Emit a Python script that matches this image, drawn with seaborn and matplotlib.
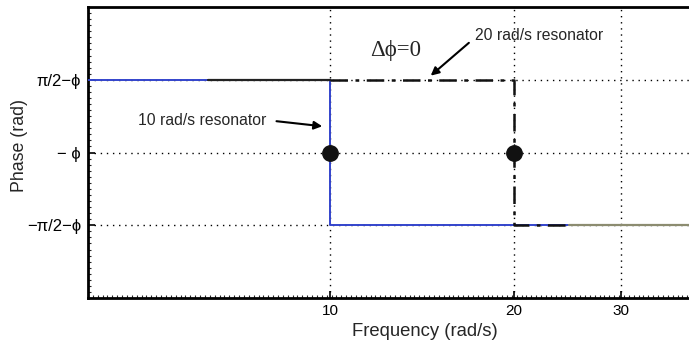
import numpy as np
import pandas as pd
import matplotlib
matplotlib.use("Agg")
import matplotlib.pyplot as plt
import seaborn as sns
from matplotlib.ticker import FixedLocator, NullFormatter, MultipleLocator

sns.set_theme(style="white")
plt.rcParams['font.family'] = ['Liberation Sans', 'DejaVu Sans']

HALF_PI = np.pi / 2

# 10 rad/s resonator phase response (solid)
freq_10 = [4.0, 10.0, 10.0, 24.7]
phase_10 = [HALF_PI, HALF_PI, -HALF_PI, -HALF_PI]

# overlapping solid trace segments
freq_top = [6.3, 10.0]
phase_top = [HALF_PI, HALF_PI]
freq_tail = [24.7, 40.0]
phase_tail = [-HALF_PI, -HALF_PI]

# 20 rad/s resonator phase response (dash-dot)
freq_20 = [10.0, 20.0, 20.0, 24.7]
phase_20 = [HALF_PI, HALF_PI, -HALF_PI, -HALF_PI]

# resonance points
res_freq = [10.0, 20.0]
res_phase = [0.0, 0.0]

x_ticks = [10, 20, 30]
y_ticks = [-HALF_PI, 0.0, HALF_PI]
y_tick_labels = ["\u2212\u03c0/2\u2212\u03d5", "\u2212 \u03d5", "\u03c0/2\u2212\u03d5"]

fig = plt.figure(figsize=(6.89, 3.47), dpi=100)
ax = fig.add_axes([88 / 689, 1 - 298 / 347, (697 - 88) / 689, (298 - 7) / 347])

ax.set_xscale("log")
ax.set_xlim(4, 40)
ax.set_ylim(-np.pi, np.pi)

# dotted grid
grid_kw = dict(color="black", lw=1.0, ls=(0, (1, 3.4)), zorder=1)
for xv in x_ticks:
    ax.axvline(xv, **grid_kw)
for yv in y_ticks:
    ax.axhline(yv, **grid_kw)

df10 = pd.DataFrame({"f": freq_10, "p": phase_10})
sns.lineplot(data=df10, x="f", y="p", sort=False, estimator=None,
             color="#3344cc", lw=1.4, ax=ax, zorder=3)
sns.lineplot(x=freq_top, y=phase_top, sort=False, estimator=None,
             color="#222222", lw=1.6, ax=ax, zorder=4)
sns.lineplot(x=freq_tail, y=phase_tail, sort=False, estimator=None,
             color="#8c8c70", lw=1.6, ax=ax, zorder=3)
df20 = pd.DataFrame({"f": freq_20, "p": phase_20})
sns.lineplot(data=df20, x="f", y="p", sort=False, estimator=None,
             color="#111111", lw=1.8, ax=ax, zorder=4,
             linestyle=(0, (7, 3, 1.5, 3)))

sns.scatterplot(x=res_freq, y=res_phase, s=125, color="#111111",
                edgecolor="#111111", ax=ax, zorder=6)

ax.xaxis.set_major_locator(FixedLocator(x_ticks))
ax.set_xticklabels([str(v) for v in x_ticks])
ax.xaxis.set_minor_locator(FixedLocator(10 ** np.arange(np.log10(4), np.log10(40), 0.008)))
ax.xaxis.set_minor_formatter(NullFormatter())
ax.yaxis.set_major_locator(FixedLocator(y_ticks))
ax.set_yticklabels(y_tick_labels)
ax.yaxis.set_minor_locator(MultipleLocator(np.pi / 24))

ax.tick_params(axis="x", which="major", direction="in", length=5, width=1.2,
               labelsize=11, colors="black", bottom=True, pad=4)
ax.tick_params(axis="y", which="major", direction="in", length=5, width=1.2,
               labelsize=12, colors="black", left=True, pad=5)
ax.tick_params(axis="both", which="minor", direction="in", length=2, width=0.8,
               bottom=True, left=True)
for s in ax.spines.values():
    s.set_linewidth(2)
    s.set_color("black")

ax.set_xlabel("Frequency (rad/s)", fontsize=13.3)
ax.xaxis.set_label_coords((425 - 88) / (697 - 88), -0.085)
ax.set_ylabel("Phase (rad)", fontsize=12.8)
ax.yaxis.set_label_coords(-0.098, (298 - 146) / (298 - 7))

ax.annotate("10 rad/s resonator", xy=(9.8, 0.56), xytext=(7.85, 0.70),
            fontsize=11.3, ha="right", va="center",
            arrowprops=dict(arrowstyle="-|>", color="black", lw=1.5,
                            mutation_scale=12, shrinkA=5, relpos=(1, 0.5)))
ax.annotate("20 rad/s resonator", xy=(14.5, 1.62), xytext=(17.3, 2.52),
            fontsize=11.3, ha="left", va="center",
            arrowprops=dict(arrowstyle="-|>", color="black", lw=1.5,
                            mutation_scale=12, shrinkA=3, relpos=(0, 0.4)))
ax.text(12.8, 2.2, "\u0394\u03d5=0", fontsize=16.5, family=["Liberation Serif", "DejaVu Serif"],
        ha="center", va="center")

fig.savefig("out.png", dpi=100)
